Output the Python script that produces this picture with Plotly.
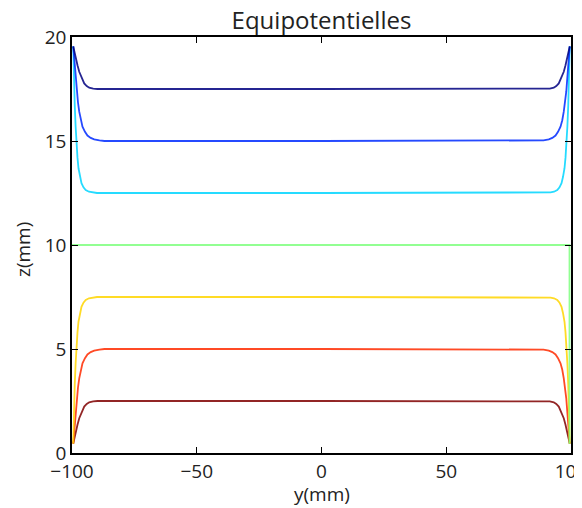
import plotly.graph_objects as go

# Equipotential levels (potential value -> line)
levels = [2.5, 5.0, 7.5, 10.0, 12.5, 15.0, 17.5]
colors = ["#800000", "#ff2b00", "#ffd500", "#80ff80", "#00d5ff", "#002bff", "#000080"]

# Distance from the side wall (mm) and z (mm), left half
d_25 = [0.5, 1.0, 1.5, 2.2, 2.9, 3.9, 4.9, 5.9, 6.9, 8.5, 10.2, 100.0]
z_25 = [0.45, 0.75, 1.02, 1.36, 1.67, 1.98, 2.23, 2.36, 2.44, 2.48, 2.5, 2.5]

d_50 = [0.5, 0.8, 1.1, 1.5, 1.9, 2.4, 2.9, 3.5, 4.2, 5.2, 6.2, 7.5, 8.9, 11.0, 13.0, 100.0]
z_50 = [0.45, 0.9, 1.35, 2.0, 2.63, 3.15, 3.59, 4.0, 4.31, 4.56, 4.74, 4.85, 4.92, 4.97, 5.0, 5.0]

d_75 = [0.5, 0.7, 0.9, 1.1, 1.45, 1.8, 2.2, 2.6, 3.2, 3.8, 4.6, 5.5, 6.8, 8.2, 10.0, 100.0]
z_75 = [0.45, 1.67, 2.5, 3.27, 4.3, 5.19, 5.8, 6.31, 6.72, 7.03, 7.23, 7.36, 7.44, 7.47, 7.5, 7.5]

d_125 = [0.5, 0.7, 0.9, 1.1, 1.45, 1.8, 2.2, 2.6, 3.2, 3.8, 4.6, 5.5, 6.8, 8.2, 10.0, 100.0]
z_125 = [19.55, 18.33, 17.5, 16.73, 15.7, 14.81, 14.2, 13.69, 13.28, 12.97, 12.77, 12.64, 12.56, 12.53, 12.5, 12.5]

d_150 = [0.5, 0.8, 1.1, 1.5, 1.9, 2.4, 2.9, 3.5, 4.2, 5.2, 6.2, 7.5, 8.9, 11.0, 13.0, 100.0]
z_150 = [19.55, 19.1, 18.65, 18.0, 17.37, 16.85, 16.41, 16.0, 15.69, 15.44, 15.26, 15.15, 15.08, 15.03, 15.0, 15.0]

d_175 = [0.5, 1.0, 1.5, 2.2, 2.9, 3.9, 4.9, 5.9, 6.9, 8.5, 10.2, 100.0]
z_175 = [19.55, 19.25, 18.98, 18.64, 18.33, 18.02, 17.77, 17.64, 17.56, 17.52, 17.5, 17.5]

# z = 10 line: horizontal, then runs down the right wall
x_10 = [-100.0, 99.4, 99.4]
z_10 = [10.0, 10.0, 0.45]

x_ticks = [-100, -50, 0, 50, 100]
y_ticks = [0, 5, 10, 15, 20]


def full_curve(d, z):
    xs = [-100.0 + v for v in d] + [100.0 - v for v in reversed(d[:-1])]
    zs = list(z) + list(reversed(z[:-1]))
    return xs, zs


curves = {
    2.5: full_curve(d_25, z_25),
    5.0: full_curve(d_50, z_50),
    7.5: full_curve(d_75, z_75),
    10.0: (x_10, z_10),
    12.5: full_curve(d_125, z_125),
    15.0: full_curve(d_150, z_150),
    17.5: full_curve(d_175, z_175),
}

fig = go.Figure()
for lev, col in zip(levels, colors):
    xs, zs = curves[lev]
    fig.add_trace(go.Scatter(x=xs, y=zs, mode="lines",
                             line=dict(color=col, width=1.8),
                             opacity=0.85,
                             showlegend=False, hoverinfo="skip"))

font_family = "Open Sans"
txt_color = "#222"
axis_common = dict(showgrid=False, zeroline=False, showline=True, linecolor="black",
                   linewidth=1.5, mirror="ticks", ticks="inside", ticklen=6,
                   tickcolor="black", tickwidth=1, automargin=False,
                   ticklabeloverflow="allow",
                   tickfont=dict(family=font_family, size=19, color=txt_color))

# page body has an 8px margin: figure is 574x500 placed at (8, 8)
W, H = 574, 500
fig.update_layout(
    width=W, height=H,
    margin=dict(l=64, r=11, t=29, b=55),
    paper_bgcolor="white", plot_bgcolor="white",
    title=dict(text="Equipotentielles", x=0.5, xref="paper", xanchor="center",
               y=1 - 13 / H, yref="container", yanchor="middle",
               font=dict(family=font_family, size=24, color=txt_color)),
    xaxis=dict(range=[-100, 100], tickvals=x_ticks, **axis_common),
    yaxis=dict(range=[0, 20], tickvals=y_ticks, **axis_common),
    annotations=[
        dict(text="y(mm)", xref="paper", yref="paper", x=0.5, y=-(494 - 453) / 416,
             xanchor="center", yanchor="middle", showarrow=False,
             font=dict(family=font_family, size=19, color=txt_color)),
        dict(text="z(mm)", xref="paper", yref="paper", x=-(72 - 23) / 499, y=0.5 - 5 / 416,
             xanchor="center", yanchor="middle", showarrow=False, textangle=-90,
             font=dict(family=font_family, size=19, color=txt_color)),
    ],
)

fig.write_html("out.html")
